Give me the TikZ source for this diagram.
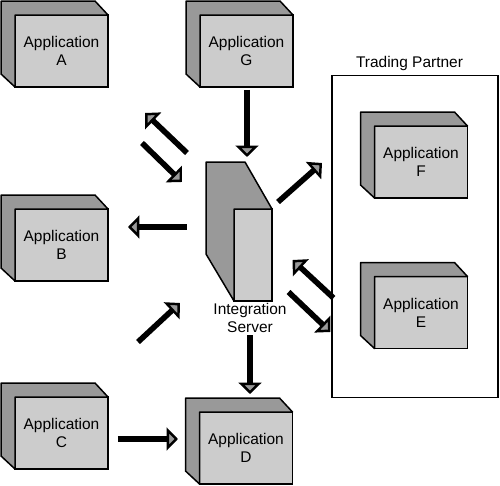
\documentclass[tikz,border=0pt]{standalone}
\usepackage{fontspec}
\setmainfont{Liberation Sans}
\usetikzlibrary{arrows.meta, positioning, calc}
\definecolor{facegray}{HTML}{CCCCCC}
\definecolor{sidegray}{HTML}{999999}

\begin{document}
\begin{tikzpicture}[
    x=0.02cm, y=-0.02cm,
    font=\fontsize{8.8}{10.2}\selectfont,
    every node/.style={align=center},
    app/.style  ={rectangle, draw, line width=0.85pt, fill=facegray, outer sep=0pt,
                  minimum width=18.6mm, minimum height=14.4mm},
    side/.style ={draw, line width=0.85pt, fill=sidegray, line join=round},
    srvbox/.style={rectangle, draw, line width=0.85pt, fill=facegray, outer sep=0pt,
                  minimum width=7.6mm, minimum height=18.4mm},
    group/.style={rectangle, draw, line width=0.6pt, outer sep=0pt,
                  minimum width=33.2mm, minimum height=64.6mm},
    flow/.style ={line width=3.2pt,
                  -{Triangle[length=6.5pt, width=13pt, fill=sidegray, line width=1.4pt]}}
]
\useasboundingbox (0,0) rectangle (500,486);

% Trading partner frame
\node[group] (partner) at (415,236.5) {};
\node[above=1pt of partner.north, xshift=-1.1mm, inner sep=1pt] (tptitle) {Trading Partner};

% Applications (front faces)
\node[app] (appA) at (61.5,51)  {Application\\A};
\node[app] (appG) at (246.5,51) {Application\\G};
\node[app] (appB) at (61.5,245) {Application\\B};
\node[app] (appC) at (61.5,433) {Application\\C};
\node[app] (appD) at (246,448)  {Application\\D};
\node[app] (appF) at (421,162)  {Application\\F};
\node[app] (appE) at (421,312.5){Application\\E};

% depth of the boxes
\foreach \n in {appA,appG,appB,appC,appD,appF,appE}
  \path[side] (\n.south west) -- ++(-14,-13) -- ($(\n.north west)+(-14,-14)$)
    -- ($(\n.north east)+(-13,-14)$) -- (\n.north east) -- (\n.north west) -- cycle;

% Integration server
\node[srvbox] (srv) at (253,255) {};
\path[side] (srv.south west) -- ++(-28,-47) -- ($(srv.north west)+(-28,-47)$)
  -- ($(srv.north east)+(-27,-47)$) -- (srv.north east) -- (srv.north west) -- cycle;
\node[below=0pt of srv, xshift=-0.6mm, inner sep=1pt] (srvlabel) {Integration\\Server};

% Arrows
\draw[flow] ($(appG.south)+(0.5,3)$) -- ++(0,67);
\draw[flow] ($(appA.south east)+(79,66)$) -- ++(-42,-40);
\draw[flow] ($(appA.south east)+(34,56)$) -- ++(40,39);
\draw[flow] ($(appB.east)+(79,-18)$) -- ++(-59,0);
\draw[flow] ($(appC.north east)+(30,-55)$) -- ++(42,-39);
\draw[flow] ($(srv.north east)+(6,-7)$) -- ++(44,-39);
\draw[flow] ($(appE.west)+(-41,-14.5)$) -- ++(-41,-38);
\draw[flow] ($(appE.west)+(-86,-20.5)$) -- ++(42,40);
\draw[flow] ($(appD.north)+(4,-77)$) -- ++(0,59);
\draw[flow] ($(appC.east)+(10,6)$) -- ++(60,0);
\end{tikzpicture}
\end{document}
